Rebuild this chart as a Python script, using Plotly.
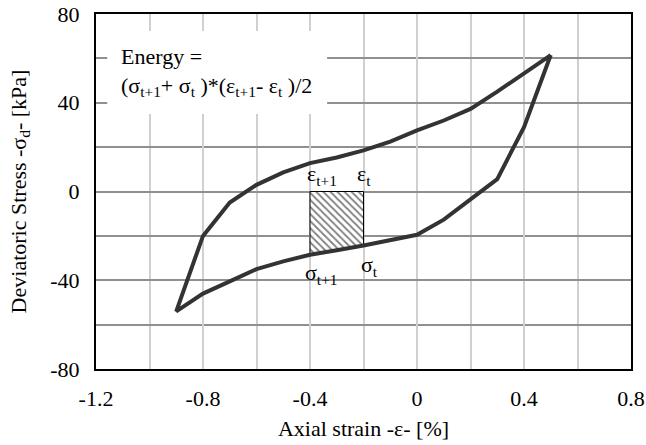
import plotly.graph_objects as go

# Hysteresis loop (axial strain %, deviatoric stress kPa)
strain = [0.5, 0.4, 0.3, 0.2, 0.1, 0.0, -0.1, -0.2, -0.3, -0.4, -0.5, -0.6, -0.7, -0.8, -0.9,
          -0.8, -0.7, -0.6, -0.5, -0.4, -0.3, -0.2, -0.1, 0.0, 0.1, 0.2, 0.3, 0.4, 0.5]
stress = [61.5, 29, 5.6, -3.7, -12.7, -19.5, -22, -24.3, -26.5, -28.5, -31.5, -35, -40.5, -46, -54,
          -20, -5, 3, 8.6, 12.8, 15.3, 18.5, 22.5, 27.5, 32, 37.2, 45, 53.3, 61.5]

# Hatched strip between strain t+1 and t
strip_x = [-0.4, -0.2, -0.2, -0.4, -0.4]
strip_y = [0, 0, -24.3, -28.5, 0]

x_ticks = [-1.2, -0.8, -0.4, 0, 0.4, 0.8]
x_ticklabels = ["-1.2", "-0.8", "-0.4", "0", "0.4", "0.8"]
y_ticks = [-80, -40, 0, 40, 80]
y_ticklabels = ["-80", "-40", "0", "40", "80"]

FONT = "Liberation Serif"
FS = 22

fig = go.Figure()
fig.add_trace(go.Scatter(
    x=strip_x, y=strip_y, mode="lines", fill="toself",
    fillcolor="rgba(0,0,0,0)",
    fillpattern=dict(shape="\\", size=5, solidity=0.35, fgcolor="black", bgcolor="white"),
    line=dict(color="black", width=1), hoverinfo="skip", showlegend=False))
fig.add_trace(go.Scatter(
    x=strain, y=stress, mode="lines",
    line=dict(color="#333333", width=4), showlegend=False))

# white box behind the formula
fig.add_shape(type="rect", xref="paper", yref="paper",
              x0=0.021, x1=0.432, y0=0.718, y1=0.952,
              fillcolor="white", line=dict(width=0), layer="above")

fig.add_annotation(xref="paper", yref="paper", x=0.043, y=0.92,
                   xanchor="left", yanchor="top", align="left", showarrow=False,
                   text="Energy =<br>(σ<sub>t+1</sub>+ σ<sub>t</sub> )*(ε<sub>t+1</sub>- ε<sub>t</sub> )/2",
                   font=dict(family=FONT, size=FS, color="black"))

labels = [
    (-0.417, 0, "ε<sub>t+1</sub>", "bottom", 1),
    (-0.23, 0, "ε<sub>t</sub>", "bottom", 1),
    (-0.425, -28.5, "σ<sub>t+1</sub>", "top", -3),
    (-0.216, -24.3, "σ<sub>t</sub>", "top", -5),
]
for lx, ly, txt, ya, yshift in labels:
    fig.add_annotation(x=lx, y=ly, text=txt, showarrow=False, xanchor="left",
                       yanchor=ya, yshift=yshift,
                       font=dict(family=FONT, size=FS, color="black"))

fig.update_layout(
    width=646, height=445,
    margin=dict(l=96, r=15, t=14, b=76),
    paper_bgcolor="white", plot_bgcolor="white",
    font=dict(family=FONT, size=FS, color="black"),
    xaxis=dict(range=[-1.2, 0.8], tickvals=x_ticks, ticktext=x_ticklabels,
               showgrid=True, gridcolor="#d0d0d0", gridwidth=1.5,
               minor=dict(dtick=0.2, tick0=0, showgrid=True, gridcolor="#d0d0d0", gridwidth=1.5),
               showline=True, linecolor="black", linewidth=2, mirror=True,
               zeroline=False, ticks="", ticklabelstandoff=9, automargin=False,
               title=dict(text="Axial strain -ε- [%]", standoff=10,
                          font=dict(family=FONT, size=FS))),
    yaxis=dict(range=[-80, 80], tickvals=y_ticks, ticktext=y_ticklabels,
               showgrid=True, gridcolor="#909090", gridwidth=1.5,
               minor=dict(dtick=20, tick0=0, showgrid=True, gridcolor="#909090", gridwidth=1.5),
               showline=True, linecolor="black", linewidth=2, mirror=True,
               zeroline=False, ticks="", ticklabelstandoff=10, automargin=False,
               title=dict(text="Deviatoric Stress -σ<sub>d</sub>- [kPa]", standoff=18,
                          font=dict(family=FONT, size=FS))),
)

fig.write_html("out.html")
